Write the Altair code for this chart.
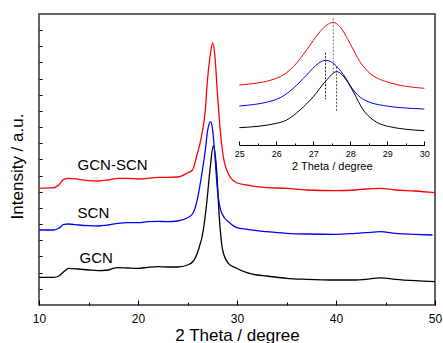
import altair as alt
import pandas as pd

# ---------------- main pattern (2 Theta in degrees, intensity in a.u.) ----------------
gcn_x = [10, 11.5, 12, 12.5, 13, 14, 15, 16, 17, 17.5, 18, 19, 20, 21, 22, 23, 24, 25, 25.6, 26.1,
         26.6, 26.94, 27.27, 27.6, 27.94, 28.21, 28.55, 29.12, 30, 31, 32, 33, 35, 37, 40, 42, 43,
         44.5, 46, 48, 50]
gcn_y = [27.7, 27.7, 29, 33.3, 36.7, 36, 35, 34.3, 35, 36.7, 37.3, 37, 36.7, 37.7, 38.3, 38, 38, 40,
         44, 55, 75, 102, 135, 159, 135, 88, 55, 41.7, 36.5, 32.3, 30, 29, 26.7, 25.7, 25, 25, 25.7,
         27.2, 25.7, 24.3, 23.3]

scn_x = [10, 11.5, 12, 12.5, 13, 14, 15, 16, 17, 18, 19, 20, 21, 22, 23, 24, 25, 25.5, 25.9, 26.4,
         26.8, 27.04, 27.34, 27.54, 27.78, 28.0, 28.45, 29.3, 30, 31, 32, 33, 35, 37, 40, 42, 43,
         44.5, 46, 48, 49.75]
scn_y = [75, 75, 76.7, 80.7, 81, 80, 79.3, 79, 80, 81.7, 82.3, 82.3, 83.3, 83.7, 83.3, 84, 87.3, 91,
         101.7, 128, 155, 175, 183.3, 175, 148, 118, 92, 81.7, 77.3, 75.7, 74.3, 73.3, 71.7, 71,
         70.7, 71.7, 72.3, 73.3, 71.7, 70.7, 70]

mix_x = [10, 11.5, 12, 12.5, 13, 14, 15, 16, 17, 18, 19, 20, 21, 22, 23, 24, 25, 25.5, 25.9, 26.4,
         26.8, 27.0, 27.27, 27.54, 27.8, 28.0, 28.28, 28.62, 29.3, 30, 31, 32, 33, 35, 37, 40, 42,
         43, 44.5, 46, 48, 50]
mix_y = [116.7, 117.3, 120, 125.7, 126.7, 125.7, 124.3, 124, 125, 126.7, 126.7, 126, 126.7, 127.7,
         127.7, 128, 132, 135, 148, 168, 195, 223, 248, 262, 245, 215, 178, 148, 128, 122, 120,
         118.3, 117.3, 116.7, 115, 114.3, 115, 116, 116.7, 115, 114, 112.3]

label_text = ["GCN-SCN", "SCN", "GCN"]
label_x = [13.9, 13.9, 14.1]
label_y = [140, 92, 47]

# ---------------- inset (25-30 degrees) ----------------
in_mix_x = [25, 26.01, 26.46, 26.82, 27.18, 27.41, 27.54, 27.72, 27.99, 28.26, 28.53, 28.98, 30]
in_mix_y = [60, 66.7, 78.3, 95, 113.3, 121, 122.7, 118.3, 101.7, 83.3, 71.7, 63.3, 56.7]
in_scn_x = [25, 26.01, 26.46, 26.82, 27.14, 27.34, 27.54, 27.82, 28.08, 28.35, 28.98, 30]
in_scn_y = [39, 45.7, 56.7, 70, 81.7, 84.7, 81.7, 70, 55, 45.7, 39, 36]
in_gcn_x = [25, 26.01, 26.28, 26.64, 27.0, 27.36, 27.63, 27.86, 28.08, 28.35, 28.62, 28.98, 30]
in_gcn_y = [17.3, 21.7, 25, 35, 48.3, 65, 73.3, 66.7, 53.3, 35, 25, 19, 14.3]

peak_x = [27.54, 27.33, 27.63]
peak_top = [126.7, 92.3, 78.3]
peak_bot = [73, 45.7, 33.3]
peak_col = ["#777777", "#222222", "#444444"]

W, H = 396, 291
FONT = "Liberation Sans"
NOAX = None

def df(xs, ys):
    return pd.DataFrame({"x": xs, "v": ys})

xs_main = alt.Scale(domain=[10, 50], nice=False, zero=False)
ys_main = alt.Scale(domain=[0, 291], nice=False, zero=False)
xs_in = alt.Scale(domain=[25, 30], range=[200.3, 385.3], nice=False, zero=False)
ys_in = alt.Scale(domain=[0, 131], range=[131, 0], nice=False, zero=False)

ax_bottom = alt.Axis(orient="bottom", values=[10, 20, 30, 40, 50], ticks=False, domain=False,
                     grid=False, labelFontSize=12, labelPadding=8, labelFlush=False,
                     title="2 Theta / degree",
                     titleFontSize=17, titleFontWeight="normal", titlePadding=3)
ax_top_major = alt.Axis(orient="top", offset=-H, values=[10, 20, 30, 40, 50], tickSize=5,
                        labels=False, domain=False, grid=False, title=None)
ax_top_minor = alt.Axis(orient="top", offset=-H, values=[15, 25, 35, 45], tickSize=3,
                        labels=False, domain=False, grid=False, title=None)
ax_left = alt.Axis(orient="left", ticks=False, labels=False, domain=False, grid=False,
                   title="Intensity / a.u.", titleFontSize=17, titleFontWeight="normal",
                   titlePadding=13, titleY=152)
ax_right_ticks = alt.Axis(orient="right", offset=-W, values=[16.17 * i for i in range(1, 18)],
                          tickSize=3, labels=False, domain=False, grid=False, title=None)

ax_in_bottom = alt.Axis(orient="bottom", offset=-160, values=[25, 26, 27, 28, 29, 30], ticks=False,
                        domain=True, domainColor="black", domainWidth=1, grid=False,
                        labelFontSize=9, labelPadding=4, labelFlush=False,
                        title="2 Theta / degree",
                        titleFontSize=11, titleFontWeight="normal", titlePadding=2)
ax_in_major = alt.Axis(orient="top", offset=-131, values=[25, 26, 27, 28, 29, 30], tickSize=4,
                       labels=False, domain=False, grid=False, title=None)
ax_in_minor = alt.Axis(orient="top", offset=-131, values=[25.5, 26.5, 27.5, 28.5, 29.5],
                       tickSize=2, labels=False, domain=False, grid=False, title=None)

gcn = alt.Chart(df(gcn_x, gcn_y)).mark_line(color="black", strokeWidth=1.3, interpolate="monotone").encode(
    x=alt.X("x:Q", scale=xs_main, axis=ax_bottom),
    y=alt.Y("v:Q", scale=ys_main, axis=ax_left))
scn = alt.Chart(df(scn_x, scn_y)).mark_line(color="#0000ff", strokeWidth=1.3, interpolate="monotone").encode(
    x=alt.X("x:Q", scale=xs_main, axis=ax_top_major),
    y=alt.Y("v:Q", scale=ys_main, axis=ax_right_ticks))
mix = alt.Chart(df(mix_x, mix_y)).mark_line(color="#ff0000", strokeWidth=1.3, interpolate="monotone").encode(
    x=alt.X("x:Q", scale=xs_main, axis=ax_top_minor),
    y=alt.Y("v:Q", scale=ys_main, axis=NOAX))
labels = alt.Chart(pd.DataFrame({"x": label_x, "v": label_y, "t": label_text})).mark_text(
    align="left", baseline="middle", fontSize=15, font=FONT, color="black").encode(
    x=alt.X("x:Q", scale=xs_main, axis=NOAX),
    y=alt.Y("v:Q", scale=ys_main, axis=NOAX),
    text="t:N")

in_mix = alt.Chart(df(in_mix_x, in_mix_y)).mark_line(color="#ff0000", strokeWidth=1, interpolate="monotone").encode(
    x=alt.X("x:Q", scale=xs_in, axis=ax_in_bottom),
    y=alt.Y("v:Q", scale=ys_in, axis=NOAX))
in_scn = alt.Chart(df(in_scn_x, in_scn_y)).mark_line(color="#0000ff", strokeWidth=1, interpolate="monotone").encode(
    x=alt.X("x:Q", scale=xs_in, axis=ax_in_major),
    y=alt.Y("v:Q", scale=ys_in, axis=NOAX))
in_gcn = alt.Chart(df(in_gcn_x, in_gcn_y)).mark_line(color="black", strokeWidth=1, interpolate="monotone").encode(
    x=alt.X("x:Q", scale=xs_in, axis=ax_in_minor),
    y=alt.Y("v:Q", scale=ys_in, axis=NOAX))
rules = alt.Chart(pd.DataFrame({"x": peak_x, "top": peak_top, "bot": peak_bot, "c": peak_col})).mark_rule(
    strokeWidth=1, strokeDash=[2, 1.5]).encode(
    x=alt.X("x:Q", scale=xs_in, axis=NOAX),
    y=alt.Y("top:Q", scale=ys_in, axis=NOAX),
    y2="bot:Q",
    color=alt.Color("c:N", scale=None))

chart = alt.layer(gcn, scn, mix, labels, in_mix, in_scn, in_gcn, rules).resolve_scale(
    x="independent", y="independent"
).properties(
    width=W, height=H,
    autosize=alt.AutoSizeParams(type="none"),
    padding={"left": 39, "top": 14, "right": 8, "bottom": 38},
    background="white",
).configure_view(
    stroke="#333333", strokeWidth=1.5
).configure_axis(
    labelFont=FONT, titleFont=FONT, labelColor="black", titleColor="black",
    tickColor="black", tickWidth=1
)

chart.save("out.html", embed_options={"renderer": "svg", "actions": False})
